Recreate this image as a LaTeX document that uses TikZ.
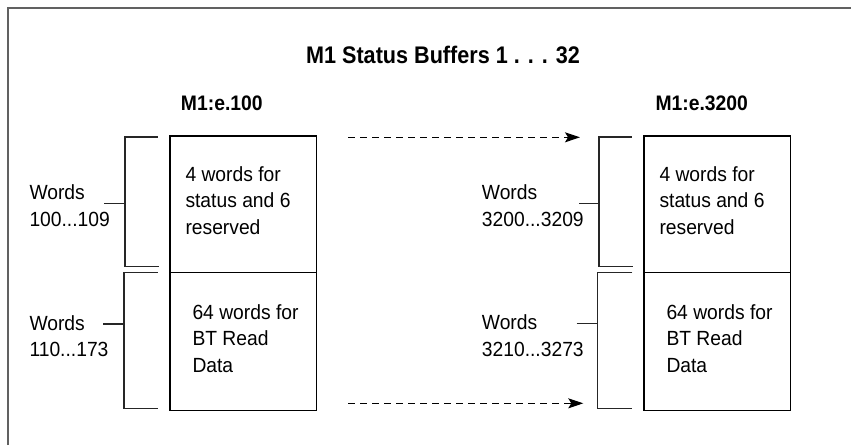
\documentclass[tikz,border=0pt]{standalone}
\usepackage{fontspec}
\setmainfont{Liberation Sans}
\newfontfamily\condfont[FakeStretch=0.90]{Liberation Sans}
\newfontfamily\subfont[FakeStretch=0.92]{Liberation Sans}
\newfontfamily\regfont[FakeStretch=0.94]{Liberation Sans}
\usetikzlibrary{arrows.meta}
\tikzset{
  framel/.style={draw=black!62, line width=2pt},
  membox/.style={draw=black, line width=1.2pt, rectangle, minimum width=146.7pt, inner sep=0pt, anchor=north west},
  brack/.style={draw=black!85, line width=1.3pt},
  lbl/.style={font=\regfont\fontsize{20.5pt}{26.5pt}\selectfont, align=left, inner sep=0pt, anchor=north west},
  ttl/.style={font=\condfont\bfseries\fontsize{24pt}{28pt}\selectfont, inner sep=0pt, anchor=base},
  subttl/.style={font=\subfont\bfseries\fontsize{21pt}{25pt}\selectfont, inner sep=0pt, anchor=base},
  flow/.style={draw=black, line width=1.1pt, dash pattern=on 7pt off 5pt, -{Stealth[length=15pt,width=10pt,inset=3pt]}}
}
\begin{document}
\begin{tikzpicture}[x=1pt,y=-1pt]
\useasboundingbox (0,0) rectangle (851,445);
% frame
\draw[framel] (8,445) -- (8,8) -- (851,8);
% titles
\node[ttl] (title) at (443,63.3) {M1 Status Buffers 1 . . . 32};
\node[subttl] (subA) at (221.8,110) {M1:e.100};
\node[subttl] (subB) at (701.7,110) {M1:e.3200};
% boxes
\node[membox, minimum height=136.4pt] (boxA1) at (169.3,135.3) {};
\node[membox, minimum height=138.3pt] (boxA2) at (169.3,271.7) {};
\node[membox, minimum height=136.4pt] (boxB1) at (643.3,135.3) {};
\node[membox, minimum height=138.3pt] (boxB2) at (643.3,271.7) {};
% box texts
\node[lbl] (tA1) at (185.3,166.1) {4 words for\\status and 6\\reserved};
\node[lbl] (tA2) at (192.3,304.4) {64 words for\\BT Read\\Data};
\node[lbl] (tB1) at (659.3,166.1) {4 words for\\status and 6\\reserved};
\node[lbl] (tB2) at (666.3,304.4) {64 words for\\BT Read\\Data};
% word labels
\node[lbl] (wA1) at (29.3,184.6) {Words\\100...109};
\node[lbl] (wA2) at (29.3,315.3) {Words\\110...173};
\node[lbl] (wB1) at (481.7,184.6) {Words\\3200...3209};
\node[lbl] (wB2) at (481.7,314.6) {Words\\3210...3273};
% brackets
\draw[brack] (157.7,137) -- (125,137) -- (125,266.7) -- (159,266.7);
\draw[brack] (104,203.3) -- (125,203.3);
\draw[brack] (157.7,272.7) -- (124,272.7) -- (124,408.3) -- (157.7,408.3);
\draw[brack] (103,324) -- (124,324);
\draw[brack] (631.7,137) -- (599,137) -- (599,266.7) -- (633.3,266.7);
\draw[brack] (579,203.3) -- (599,203.3);
\draw[brack] (632.3,272.7) -- (597.7,272.7) -- (597.7,408.3) -- (632.3,408.3);
\draw[brack] (576.7,323.3) -- (597.7,323.3);
% arrows
\coordinate (a1s) at (348.3,137.3);
\coordinate (a1e) at (580,137.3);
\coordinate (a2s) at (348.3,403.3);
\coordinate (a2e) at (583.3,403.3);
\draw[flow] (a1s) -- (a1e);
\draw[flow] (a2s) -- (a2e);
\end{tikzpicture}
\end{document}
